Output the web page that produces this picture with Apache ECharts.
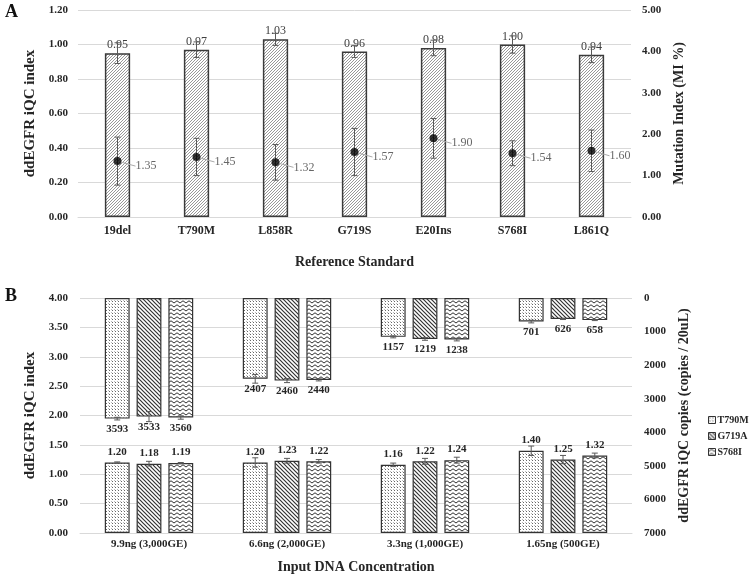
<!DOCTYPE html>
<html><head><meta charset="utf-8">
<script src="https://cdn.jsdelivr.net/npm/echarts@6/dist/echarts.min.js"></script>
<style>html,body{margin:0;padding:0;background:#fff}#c{width:750px;height:577px}</style>
</head><body><div id="c"></div>
<script>
// ---------- Panel A data ----------
const categoriesA = ['19del','T790M','L858R','G719S','E20Ins','S768I','L861Q'];
const iqcA = [0.95,0.97,1.03,0.96,0.98,1.00,0.94];
const iqcErrA = [0.06,0.045,0.035,0.035,0.045,0.05,0.045];
const miA = [1.35,1.45,1.32,1.57,1.90,1.54,1.60];
const miErrA = [0.58,0.45,0.43,0.57,0.48,0.30,0.50];

// ---------- Panel B data ----------
const categoriesB = ['9.9ng (3,000GE)','6.6ng (2,000GE)','3.3ng (1,000GE)','1.65ng (500GE)'];
const seriesNamesB = ['T790M','G719A','S768I'];
const iqcT790M = [1.20,1.20,1.16,1.40];
const iqcG719A = [1.18,1.23,1.22,1.25];
const iqcS768I = [1.19,1.22,1.24,1.32];
const iqcErrT790M = [0.01,0.08,0.03,0.08];
const iqcErrG719A = [0.04,0.04,0.05,0.07];
const iqcErrS768I = [0.01,0.03,0.05,0.04];
const copiesT790M = [3593,2407,1157,701];
const copiesG719A = [3533,2460,1219,626];
const copiesS768I = [3560,2440,1238,658];
const copiesErrT790M = [40,130,30,40];
const copiesErrG719A = [150,60,40,15];
const copiesErrS768I = [50,30,40,15];

const FONT = "'Liberation Serif','Times New Roman',serif";
const TXT = '#262626';
const GRID = '#d9d9d9';

function makeCanvas(w,h,draw){const c=document.createElement('canvas');c.width=w;c.height=h;const g=c.getContext('2d');draw(g);return c;}
const hatchA = makeCanvas(3,3,g=>{g.fillStyle='#fff';g.fillRect(0,0,3,3);g.strokeStyle='#8c8c8c';g.lineWidth=0.9;g.beginPath();
  g.moveTo(0,3);g.lineTo(3,0);g.moveTo(-1,1);g.lineTo(1,-1);g.moveTo(2,4);g.lineTo(4,2);g.stroke();});
const dotsP = makeCanvas(3,3,g=>{g.fillStyle='#fff';g.fillRect(0,0,3,3);g.fillStyle='#666';g.fillRect(1,1,1,1);g.fillStyle='#bbb';g.fillRect(0,0,1,1);});
const backP = makeCanvas(4,4,g=>{g.fillStyle='#fff';g.fillRect(0,0,4,4);g.strokeStyle='#333';g.lineWidth=1.2;g.beginPath();
  g.moveTo(0,0);g.lineTo(4,4);g.moveTo(-1,3);g.lineTo(1,5);g.moveTo(3,-1);g.lineTo(5,1);g.stroke();});
const zigP = makeCanvas(6,4,g=>{g.fillStyle='#fff';g.fillRect(0,0,6,4);g.strokeStyle='#333';g.lineWidth=1;g.beginPath();
  g.moveTo(0,3);g.lineTo(3,0.8);g.lineTo(6,3);g.stroke();});
const pat = c => ({image:c, repeat:'repeat'});
const patternsB = [pat(dotsP), pat(backP), pat(zigP)];

function errRender(idx, n, wRatio, gRatio){
  return function(params, api){
    const x = api.value(0), lo = api.value(1), hi = api.value(2);
    const pLo = api.coord([x, lo]), pHi = api.coord([x, hi]);
    const band = api.size([1,0])[0];
    const w = band*wRatio;
    const off = (idx - (n-1)/2)*(w + w*gRatio);
    const cx = pLo[0] + off, cap = 3;
    const st = {stroke:'#595959', lineWidth:1};
    return {type:'group', children:[
      {type:'line', shape:{x1:cx,y1:pLo[1],x2:cx,y2:pHi[1]}, style:st},
      {type:'line', shape:{x1:cx-cap,y1:pLo[1],x2:cx+cap,y2:pLo[1]}, style:st},
      {type:'line', shape:{x1:cx-cap,y1:pHi[1],x2:cx+cap,y2:pHi[1]}, style:st}
    ]};
  };
}
const errData = (vals, errs) => vals.map((v,i)=>[i, v-errs[i], v+errs[i]]);

const axisLabelStyle = {fontFamily:FONT, fontWeight:'bold', fontSize:11, color:TXT};
const nameStyle = {fontFamily:FONT, fontWeight:'bold', fontSize:15, color:TXT};

const iqcB = [iqcT790M, iqcG719A, iqcS768I];
const iqcErrB = [iqcErrT790M, iqcErrG719A, iqcErrS768I];
const copiesB = [copiesT790M, copiesG719A, copiesS768I];
const copiesErrB = [copiesErrT790M, copiesErrG719A, copiesErrS768I];

const series = [
  {type:'bar', xAxisIndex:0, yAxisIndex:0, data:iqcA, barWidth:'32%', z:2,
   itemStyle:{color:pat(hatchA), borderColor:'#3a3a3a', borderWidth:1.5},
   label:{show:true, position:'top', distance:2, formatter:p=>p.value.toFixed(2), fontFamily:FONT, fontSize:12, color:'#404040'}},
  {type:'custom', xAxisIndex:0, yAxisIndex:0, z:3, renderItem:errRender(0,1,0.32,0), data:errData(iqcA, iqcErrA), silent:true},
  {type:'custom', xAxisIndex:0, yAxisIndex:1, z:3, renderItem:errRender(0,1,0.32,0), data:errData(miA, miErrA), silent:true},
  {type:'scatter', xAxisIndex:0, yAxisIndex:1, data:miA, symbolSize:8, z:4, itemStyle:{color:'#000'},
   label:{show:true, position:'right', distance:4, formatter:p=>p.value.toFixed(2), fontFamily:FONT, fontSize:12, color:'#404040'},
   labelLayout:{dx:10, dy:5},
   labelLine:{show:true, lineStyle:{color:'#aaa', width:1}}}
];
seriesNamesB.forEach((nm,i)=>{
  series.push({type:'bar', name:nm, xAxisIndex:1, yAxisIndex:2, data:iqcB[i], barWidth:'18%', barGap:'28%', z:2,
    itemStyle:{color:patternsB[i], borderColor:'#333', borderWidth:1.2},
    label:{show:true, position:'top', distance:5, formatter:p=>p.value.toFixed(2), fontFamily:FONT, fontWeight:'bold', fontSize:11, color:TXT}});
});
seriesNamesB.forEach((nm,i)=>{
  series.push({type:'bar', name:nm, xAxisIndex:2, yAxisIndex:3, data:copiesB[i], barWidth:'18%', barGap:'28%', z:2,
    itemStyle:{color:patternsB[i], borderColor:'#333', borderWidth:1.2},
    label:{show:true, position:'bottom', distance:5, fontFamily:FONT, fontWeight:'bold', fontSize:11, color:TXT}});
});
seriesNamesB.forEach((nm,i)=>{
  series.push({type:'custom', xAxisIndex:1, yAxisIndex:2, z:3, renderItem:errRender(i,3,0.18,0.28), data:errData(iqcB[i], iqcErrB[i]), silent:true});
  series.push({type:'custom', xAxisIndex:2, yAxisIndex:3, z:3, renderItem:errRender(i,3,0.18,0.28), data:errData(copiesB[i], copiesErrB[i]), silent:true});
});

const option = {
  animation:false,
  backgroundColor:'#fff',
  graphic:[
    {type:'text', left:5, top:3, style:{text:'A', font:"bold 18px 'Liberation Serif',serif", fill:'#111'}},
    {type:'text', left:5, top:287, style:{text:'B', font:"bold 18px 'Liberation Serif',serif", fill:'#111'}}
  ],
  legend:{data:seriesNamesB, orient:'vertical', left:703, top:410, itemGap:6, itemWidth:7, itemHeight:7,
    icon:'rect', itemStyle:{borderColor:'#333', borderWidth:1},
    textStyle:{fontFamily:FONT, fontWeight:'bold', fontSize:10, color:TXT, padding:[0,0,0,-3]}},
  grid:[
    {left:78, right:119, top:10, height:207},
    {left:80, right:118, top:298, height:235}
  ],
  xAxis:[
    {gridIndex:0, type:'category', data:categoriesA, axisTick:{show:false}, axisLine:{lineStyle:{color:GRID}},
     axisLabel:Object.assign({}, axisLabelStyle, {fontSize:12, margin:8}),
     name:'Reference Standard', nameLocation:'middle', nameGap:38, nameTextStyle:Object.assign({}, nameStyle, {fontSize:14})},
    {gridIndex:1, type:'category', data:categoriesB, axisTick:{show:false}, axisLine:{lineStyle:{color:GRID}},
     axisLabel:Object.assign({}, axisLabelStyle, {fontSize:11, margin:6}),
     name:'Input DNA Concentration', nameLocation:'middle', nameGap:27, nameTextStyle:Object.assign({}, nameStyle, {fontSize:14})},
    {gridIndex:1, type:'category', data:categoriesB, show:false}
  ],
  yAxis:[
    {gridIndex:0, type:'value', min:0, max:1.2, interval:0.2, axisLine:{show:false}, axisTick:{show:false},
     axisLabel:Object.assign({}, axisLabelStyle, {formatter:v=>v.toFixed(2), margin:10}),
     splitLine:{lineStyle:{color:GRID}},
     name:'ddEGFR iQC index', nameLocation:'middle', nameGap:31, nameTextStyle:nameStyle},
    {gridIndex:0, type:'value', position:'right', min:0, max:5, interval:1, axisLine:{show:false}, axisTick:{show:false},
     axisLabel:Object.assign({}, axisLabelStyle, {formatter:v=>v.toFixed(2), margin:11}),
     splitLine:{show:false},
     name:'Mutation Index (MI %)', nameLocation:'middle', nameGap:37, nameRotate:90, nameTextStyle:Object.assign({}, nameStyle, {fontSize:14})},
    {gridIndex:1, type:'value', min:0, max:4, interval:0.5, axisLine:{show:false}, axisTick:{show:false},
     axisLabel:Object.assign({}, axisLabelStyle, {formatter:v=>v.toFixed(2), margin:12}),
     splitLine:{lineStyle:{color:GRID}},
     name:'ddEGFR iQC index', nameLocation:'middle', nameGap:34, nameTextStyle:nameStyle},
    {gridIndex:1, type:'value', position:'right', inverse:true, min:0, max:7000, interval:1000, axisLine:{show:false}, axisTick:{show:false},
     axisLabel:Object.assign({}, axisLabelStyle, {margin:12, formatter:v=>String(v)}),
     splitLine:{show:false},
     name:'ddEGFR iQC copies (copies / 20uL)', nameLocation:'middle', nameGap:44, nameRotate:90, nameTextStyle:Object.assign({}, nameStyle, {fontSize:14})}
  ],
  series:series
};
const chart = echarts.init(document.getElementById('c'), null, {renderer:'canvas'});
chart.setOption(option);
</script></body></html>
